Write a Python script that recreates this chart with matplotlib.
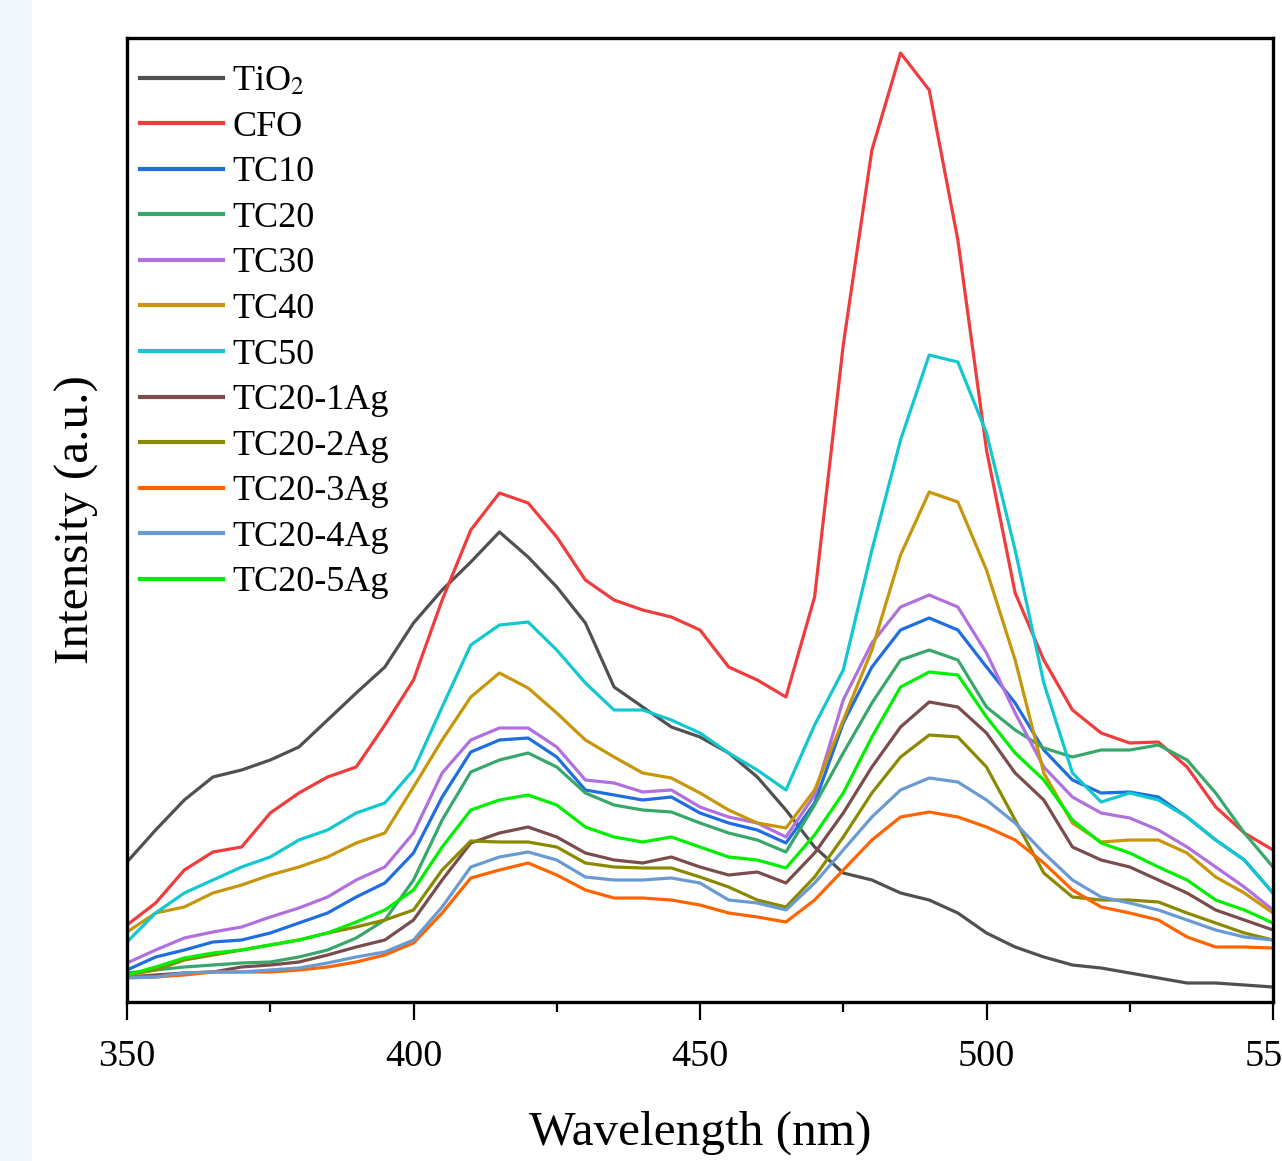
import numpy as np
import matplotlib
matplotlib.use("Agg")
import matplotlib.pyplot as plt
from matplotlib.patches import Rectangle

wavelength = np.arange(350, 551, 5)

tio2 = [140,172,202,225,232,242,255,282,309,335,379,412,440,470,445,415,379,315,295,275,265,249,225,192,155,129,122,109,102,89,69,55,45,37,34,29,24,19,19,17,15]
cfo = [77,99,132,150,155,189,209,225,235,277,322,402,472,509,499,465,422,402,392,385,372,335,322,305,405,657,852,949,912,762,552,409,342,292,269,259,260,235,195,169,152]
tc10 = [32,45,52,60,62,69,79,89,105,119,149,205,250,262,264,245,212,207,202,205,189,179,172,159,199,279,335,372,384,372,335,299,252,222,209,210,205,185,162,142,109]
tc20 = [29,32,35,37,39,40,45,52,64,82,122,182,230,242,249,235,209,197,192,190,179,169,162,150,197,249,299,342,352,342,295,272,254,245,252,252,257,242,209,169,135]
tc30 = [39,52,64,70,75,85,94,105,122,135,169,229,262,274,274,255,222,219,210,212,195,185,179,165,207,302,359,395,407,395,349,289,235,205,189,184,172,155,135,115,92]
tc40 = [70,89,95,109,117,127,135,145,159,169,215,262,305,329,314,289,262,245,229,224,209,192,179,174,212,282,352,447,510,500,432,342,229,179,160,162,162,149,125,109,89]
tc50 = [60,89,109,122,135,145,162,172,189,199,232,295,357,377,380,352,319,292,292,282,269,249,232,212,277,332,452,562,647,640,569,452,319,229,200,209,202,185,162,142,109]
tc20_1ag = [25,27,29,30,35,37,40,47,55,62,82,122,159,169,175,165,149,142,139,145,135,127,130,119,149,189,235,275,300,295,269,229,202,155,142,135,122,109,92,82,72]
tc20_2ag = [27,32,42,47,52,57,62,69,75,82,92,132,161,160,160,155,139,135,134,134,125,115,102,95,125,165,209,245,267,265,235,182,129,105,102,102,100,89,79,69,62]
tc20_3ag = [25,25,27,30,30,30,32,35,40,47,59,89,124,132,139,127,112,104,104,102,97,89,85,80,102,132,162,185,190,185,175,162,139,112,95,89,82,65,55,55,54]
tc20_4ag = [24,25,29,30,30,32,34,39,45,50,62,95,135,145,150,142,125,122,122,124,119,102,99,92,119,152,185,212,224,220,202,179,149,122,105,99,92,82,72,65,62]
tc20_5ag = [27,35,44,49,52,57,62,69,80,92,112,155,192,202,207,197,175,165,160,165,155,145,142,134,167,209,265,315,330,327,285,249,222,182,159,149,135,122,102,92,79]

labels = ["TiO$_2$", "CFO", "TC10", "TC20", "TC30", "TC40", "TC50",
          "TC20-1Ag", "TC20-2Ag", "TC20-3Ag", "TC20-4Ag", "TC20-5Ag"]
series = [tio2, cfo, tc10, tc20, tc30, tc40, tc50,
          tc20_1ag, tc20_2ag, tc20_3ag, tc20_4ag, tc20_5ag]
colors = ["#505050", "#f03c3c", "#1f6ee0", "#38a86a", "#b070e0", "#c8960a",
          "#12c8d0", "#7a4c4c", "#8a8a00", "#ff6400", "#6a9ad2", "#00f000"]

plt.rcParams['font.family'] = ['Liberation Serif', 'DejaVu Serif']
plt.rcParams['mathtext.fontset'] = 'stix'

fig = plt.figure(figsize=(12.82, 11.61), dpi=100)
fig.patches.append(Rectangle((0, 0), 32/1282, 1, transform=fig.transFigure,
                             facecolor="#f0f8fc", edgecolor="none", zorder=0))
ax = fig.add_axes([127/1282, 1-1002/1161, (1273-127)/1282, (1002-38)/1161])

for y, lab, c in zip(series, labels, colors):
    ax.plot(wavelength, y, color=c, lw=2.3, label=lab)

ax.set_xlim(350, 550)
ax.set_ylim(0, 964)
ax.set_yticks([])
ax.set_xticks([350, 400, 450, 500, 550])
ax.set_xticks([375, 425, 475, 525], minor=True)
ax.tick_params(axis='x', which='major', direction='out', length=13, width=1.6,
               labelsize=27.5, pad=14)
ax.tick_params(axis='x', which='minor', direction='out', length=7, width=1.6)
for s in ax.spines.values():
    s.set_linewidth(2.4)

ax.set_xlabel("Wavelength (nm)", fontsize=35.5, labelpad=26)
ax.set_ylabel("Intensity (a.u.)", fontsize=35.5, labelpad=20)

leg = ax.legend(loc='upper left', bbox_to_anchor=(13/1146, 1-27/964),
                frameon=False, fontsize=26, handlelength=2.3, handletextpad=0.25,
                labelspacing=0.34, borderpad=0, borderaxespad=0)
for h in leg.get_lines():
    h.set_linewidth(3)

fig.savefig("out.png", dpi=100)
